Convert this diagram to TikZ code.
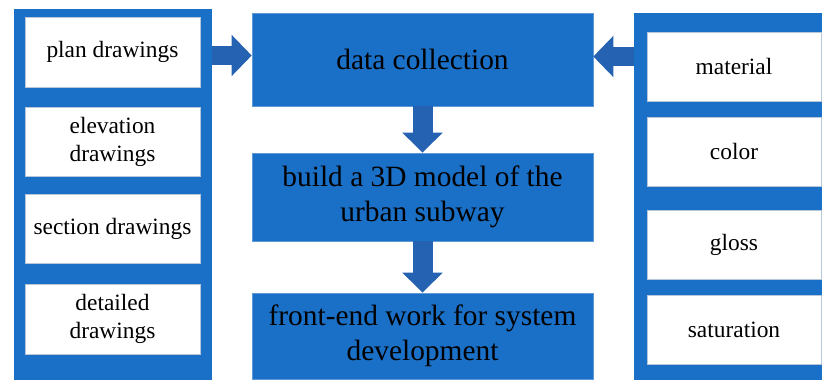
\documentclass[tikz,border=0pt]{standalone}
\usepackage{fontspec}
\setmainfont{Liberation Serif}
\usetikzlibrary{arrows.meta,calc}
\definecolor{panelblue}{HTML}{1A6FC6}
\definecolor{arrowblue}{HTML}{2563B2}
\definecolor{boxedge}{HTML}{B8C6DA}
\begin{document}
\begin{tikzpicture}[x=1bp,y=-1bp,
  panel/.style={rectangle,fill=panelblue,draw=none,inner sep=0pt},
  sidebox/.style={rectangle,fill=white,draw=boxedge,line width=0.8bp,inner sep=0pt,align=center,
    font=\fontsize{23.4bp}{28bp}\selectfont},
  mainbox/.style={rectangle,fill=panelblue,draw=panelblue!70!white,line width=0.6bp,inner sep=0pt,align=center,
    font=\fontsize{29.4bp}{35bp}\selectfont},
  blockarrow/.style={draw=arrowblue,line width=19bp,-{Triangle[length=20bp,width=40bp]}},
  blockarrowv/.style={draw=arrowblue,line width=20bp,-{Triangle[length=20bp,width=39bp]}}]
\clip (0,0) rectangle (822,379);
\fill[white] (0,0) rectangle (822,379);
% left panel
\node[panel,minimum width=198bp,minimum height=380bp] (lp) at (113,199) {};
\node[sidebox,minimum width=175bp,minimum height=70bp] (l1) at (112.5,52) {plan drawings};
\node[sidebox,minimum width=175bp,minimum height=69bp] (l2) at (112.5,141.5) {elevation\\drawings};
\node[sidebox,minimum width=175bp,minimum height=69bp] (l3) at (112.5,228.5) {section drawings};
\node[sidebox,minimum width=175bp,minimum height=70bp] (l4) at (112.5,319) {detailed\\drawings};
% right panel
\node[panel,minimum width=201bp,minimum height=376bp] (rp) at (734.5,201) {};
\node[sidebox,minimum width=174bp,minimum height=69bp] (r1) at (734,66.5) {material};
\node[sidebox,minimum width=174bp,minimum height=69bp] (r2) at (734,151.5) {color};
\node[sidebox,minimum width=174bp,minimum height=69bp] (r3) at (734,244.5) {gloss};
\node[sidebox,minimum width=174bp,minimum height=69bp] (r4) at (734,329.5) {saturation};
% center
\node[mainbox,minimum width=341bp,minimum height=93bp] (c1) at (422.5,59.5) {data collection};
\node[mainbox,minimum width=341bp,minimum height=88bp] (c2) at (422.5,197) {build a 3D model of the\\urban subway};
\node[mainbox,minimum width=341bp,minimum height=86bp] (c3) at (422.5,336) {front-end work for system\\development};
% arrows
\coordinate (la) at ($(lp.east |- c1.west)+(0,-4)$);
\coordinate (ra) at ($(rp.west |- c1.east)+(0,-3)$);
\draw[blockarrow] (la) -- (c1.west |- la);
\draw[blockarrow] (ra) -- (c1.east |- ra);
\draw[blockarrowv] (c1.south) -- (c2.north);
\draw[blockarrowv] (c2.south) -- (c3.north);
\end{tikzpicture}
\end{document}
